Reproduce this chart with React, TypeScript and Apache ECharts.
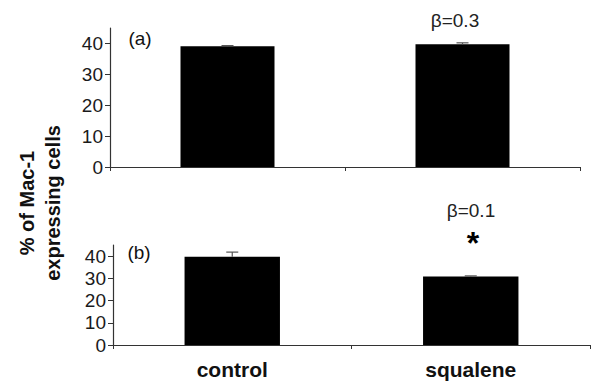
import React, { useEffect, useRef } from "react";
import * as echarts from "echarts";

const categories = ["control", "squalene"];
const panelAValues = [39.1, 39.7];
const panelAErrors = [0.2, 0.5];
const panelBValues = [39.7, 30.8];
const panelBErrors = [2.1, 0.3];
const yTicks = [0, 10, 20, 30, 40];
const panelLabels = ["(a)", "(b)"];
const betaLabels = ["β=0.3", "β=0.1"];
const yTitle = "% of Mac-1\nexpressing cells";

const FONT = "Liberation Sans, Arial, sans-serif";

function errorSeries(values: number[], errors: number[], gridIdx: number) {
  return {
    type: "custom",
    xAxisIndex: gridIdx,
    yAxisIndex: gridIdx,
    z: 5,
    data: values.map((v, i) => [i, v, v + errors[i]]),
    renderItem: (params: any, api: any) => {
      const i = api.value(0);
      const lo = api.coord([i, api.value(1)]);
      const hi = api.coord([i, api.value(2)]);
      const half = 6;
      const style = { stroke: "#555", lineWidth: 1.2 };
      return {
        type: "group",
        children: [
          { type: "line", shape: { x1: lo[0], y1: lo[1], x2: hi[0], y2: hi[1] }, style },
          { type: "line", shape: { x1: hi[0] - half, y1: hi[1], x2: hi[0] + half, y2: hi[1] }, style },
        ],
      };
    },
  };
}

export default function App() {
  const ref = useRef<HTMLDivElement>(null);
  useEffect(() => {
    document.body.style.margin = "0";
    const chart = echarts.init(ref.current!, null, { renderer: "svg" });
    const yAxisCommon = {
      type: "value",
      min: 0,
      max: 45,
      interval: 10,
      axisLine: { show: true, lineStyle: { color: "#333", width: 1.2 } },
      axisTick: { show: true, length: 5, lineStyle: { color: "#333" }, customValues: yTicks },
      axisLabel: { color: "#1a1a1a", fontSize: 19, fontFamily: FONT, margin: 7, customValues: yTicks },
      splitLine: { show: false },
    };
    const xAxisCommon = {
      type: "category",
      data: categories,
      axisLine: { show: true, lineStyle: { color: "#333", width: 1.2 } },
      axisTick: { show: true, length: 4, lineStyle: { color: "#333" } },
    };
    chart.setOption({
      animation: false,
      backgroundColor: "#fff",
      grid: [
        { left: 110, right: 12, top: 28, bottom: 218 },
        { left: 113, right: 2, top: 245, bottom: 40 },
      ],
      xAxis: [
        { ...xAxisCommon, gridIndex: 0, axisLabel: { show: false } },
        {
          ...xAxisCommon,
          gridIndex: 1,
          axisLabel: { color: "#111", fontSize: 21, fontWeight: "bold", fontFamily: FONT, margin: 14 },
        },
      ],
      yAxis: [
        { ...yAxisCommon, gridIndex: 0 },
        { ...yAxisCommon, gridIndex: 1 },
      ],
      series: [
        {
          type: "bar",
          xAxisIndex: 0,
          yAxisIndex: 0,
          data: panelAValues,
          barWidth: "40%",
          itemStyle: { color: "#000" },
        },
        {
          type: "bar",
          xAxisIndex: 1,
          yAxisIndex: 1,
          data: panelBValues,
          barWidth: "40%",
          itemStyle: { color: "#000" },
        },
        errorSeries(panelAValues, panelAErrors, 0),
        errorSeries(panelBValues, panelBErrors, 1),
      ],
      graphic: [
        {
          type: "text",
          x: 40,
          y: 203,
          rotation: Math.PI / 2,
          style: {
            text: yTitle,
            fontSize: 20,
            fontWeight: "bold",
            fontFamily: FONT,
            fill: "#111",
            align: "center",
            verticalAlign: "middle",
            lineHeight: 26,
          },
        },
        {
          type: "text",
          x: 140,
          y: 38,
          style: { text: panelLabels[0], fontSize: 19, fontFamily: FONT, fill: "#111", align: "center", verticalAlign: "middle" },
        },
        {
          type: "text",
          x: 139,
          y: 252,
          style: { text: panelLabels[1], fontSize: 19, fontFamily: FONT, fill: "#111", align: "center", verticalAlign: "middle" },
        },
        {
          type: "text",
          x: 455,
          y: 20,
          style: { text: betaLabels[0], fontSize: 19, fontFamily: FONT, fill: "#222", align: "center", verticalAlign: "middle" },
        },
        {
          type: "text",
          x: 471,
          y: 210,
          style: { text: betaLabels[1], fontSize: 19, fontFamily: FONT, fill: "#222", align: "center", verticalAlign: "middle" },
        },
        {
          type: "text",
          x: 473,
          y: 243,
          style: { text: "*", fontSize: 32, fontWeight: "bold", fontFamily: FONT, fill: "#000", align: "center", verticalAlign: "middle" },
        },
      ],
    });
    return () => chart.dispose();
  }, []);
  return <div ref={ref} style={{ position: "absolute", left: 0, top: 0, width: 592, height: 385 }} />;
}
